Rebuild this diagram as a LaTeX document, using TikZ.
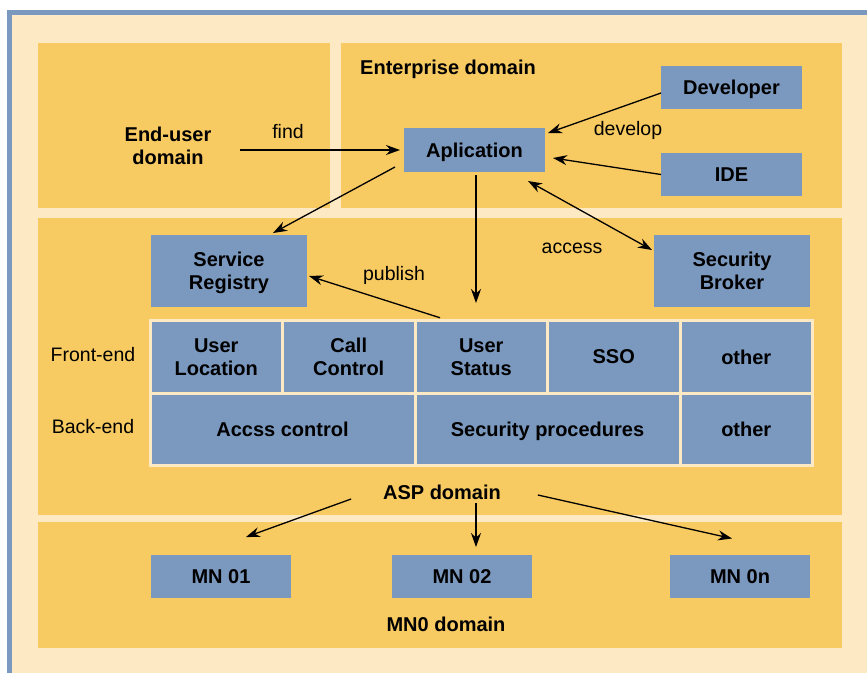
\documentclass[tikz,border=0pt]{standalone}
\usepackage{fontspec}
\setmainfont{Liberation Sans}
\usetikzlibrary{arrows.meta,positioning}

\definecolor{framebl}{HTML}{7B98BE}
\definecolor{boxbl}{HTML}{7B98BE}
\definecolor{domyel}{HTML}{F8CA62}
\definecolor{paper}{HTML}{FEE9C5}

\begin{document}
\begin{tikzpicture}[x=1pt,y=-1pt,>={Stealth[length=14pt,width=10pt]},line width=1.3pt,
                    font=\fontsize{19.5}{23}\selectfont,
                    comp/.style={fill=boxbl,font=\fontsize{20}{23}\selectfont\bfseries,
                                 align=center,inner sep=0pt,outer sep=0pt,text depth=0pt},
                    cell/.style={comp,draw=paper,line width=3pt,minimum height=72.5pt},
                    dom/.style={font=\fontsize{20}{23}\selectfont\bfseries,align=center}]

  \useasboundingbox (0,0) rectangle (867,673);
  \fill[white] (0,0) rectangle (867,673);
  \fill[framebl] (7,10) rectangle (867,673);
  \fill[paper] (12,15) rectangle (867,673);

  % domains
  \fill[domyel] (38,43) rectangle (330,208);
  \fill[domyel] (341,43) rectangle (842,208);
  \fill[domyel] (38,218) rectangle (842,515);
  \fill[domyel] (38,522) rectangle (842,648);

  \node[dom] (eu)  at (168,146) {End-user\\domain};
  \node[dom] (ent) at (448,69)  {Enterprise domain};
  \node[dom] (asp) at (442,492) {ASP domain};
  \node[dom] (mno) at (446,624) {MN0 domain};

  % components
  \node[comp,minimum width=141pt,minimum height=43pt] (dev) at (731.5,87.5) {Developer};
  \node[comp,minimum width=141pt,minimum height=43pt] (ide) [below=44pt of dev] {IDE};
  \node[comp,minimum width=141pt,minimum height=44pt] (app) at (474.5,150) {Aplication};
  \node[comp,minimum width=156pt,minimum height=72pt] (sr)  at (229,271) {Service\\Registry};
  \node[comp,minimum width=156pt,minimum height=72pt] (sb)  [right=347pt of sr] {Security\\Broker};

  % service table
  \node[cell,minimum width=132.5pt] (ul)   at (216.25,357)   {User\\Location};
  \node[cell,minimum width=132.5pt] (cc)   [right=0pt of ul] {Call\\Control};
  \node[cell,minimum width=132.5pt] (us)   [right=0pt of cc] {User\\Status};
  \node[cell,minimum width=132.5pt] (sso)  [right=0pt of us] {SSO};
  \node[cell,minimum width=132.5pt] (oth1) [right=0pt of sso] {other};
  \node[cell,minimum width=265pt,anchor=north west] (acc) at (ul.south west) {Accss control};
  \node[cell,minimum width=265pt]   (sp)   [right=0pt of acc] {Security procedures};
  \node[cell,minimum width=132.5pt] (oth2) [right=0pt of sp] {other};

  \node (fe) at (93,355) {Front-end};
  \node (be) at (93,427) {Back-end};

  \node[comp,minimum width=140pt,minimum height=43pt] (mn1) at (221,576.5) {MN 01};
  \node[comp,minimum width=140pt,minimum height=43pt] (mn2) [right=101pt of mn1] {MN 02};
  \node[comp,minimum width=140pt,minimum height=43pt] (mnn) [right=138pt of mn2] {MN 0n};

  % labels
  \node (find) at (288,132) {find};
  \node (dvl)  at (628,130) {develop};
  \node (acs)  at (572,248) {access};
  \node (pub)  at (394,275) {publish};

  % arrows
  \draw[->,shorten <=25pt,shorten >=4pt] (eu.east |- app.west) -- (app.west);
  \draw[->] ([shift={(0,5.5)}]dev.west) -- ([shift={(3,5)}]app.north east);
  \draw[->] (ide.west) -- ([shift={(8,8)}]app.east);
  \draw[<->] ([shift={(-17,9)}]app.south east) -- ([shift={(-2,15)}]sb.north west);
  \draw[->] ([shift={(-9,-5)}]app.south west) -- ([shift={(-34,-2)}]sr.north east);
  \draw[->] ([shift={(1.5,3)}]app.south) -- ([shift={(-5.25,-17.75)}]us.north);
  \draw[->] ([shift={(25,-3)}]us.north west) -- ([shift={(2,5)}]sr.east);

  \draw[->] ([shift={(-28,7)}]asp.west) -- ([shift={(25,-18)}]mn1.north);
  \draw[->] ([shift={(34,0)}]asp.south) -- ([shift={(14,-8)}]mn2.north);
  \draw[->] ([shift={(33,3)}]asp.east) -- ([shift={(-8,-16.5)}]mnn.north);

\end{tikzpicture}
\end{document}
